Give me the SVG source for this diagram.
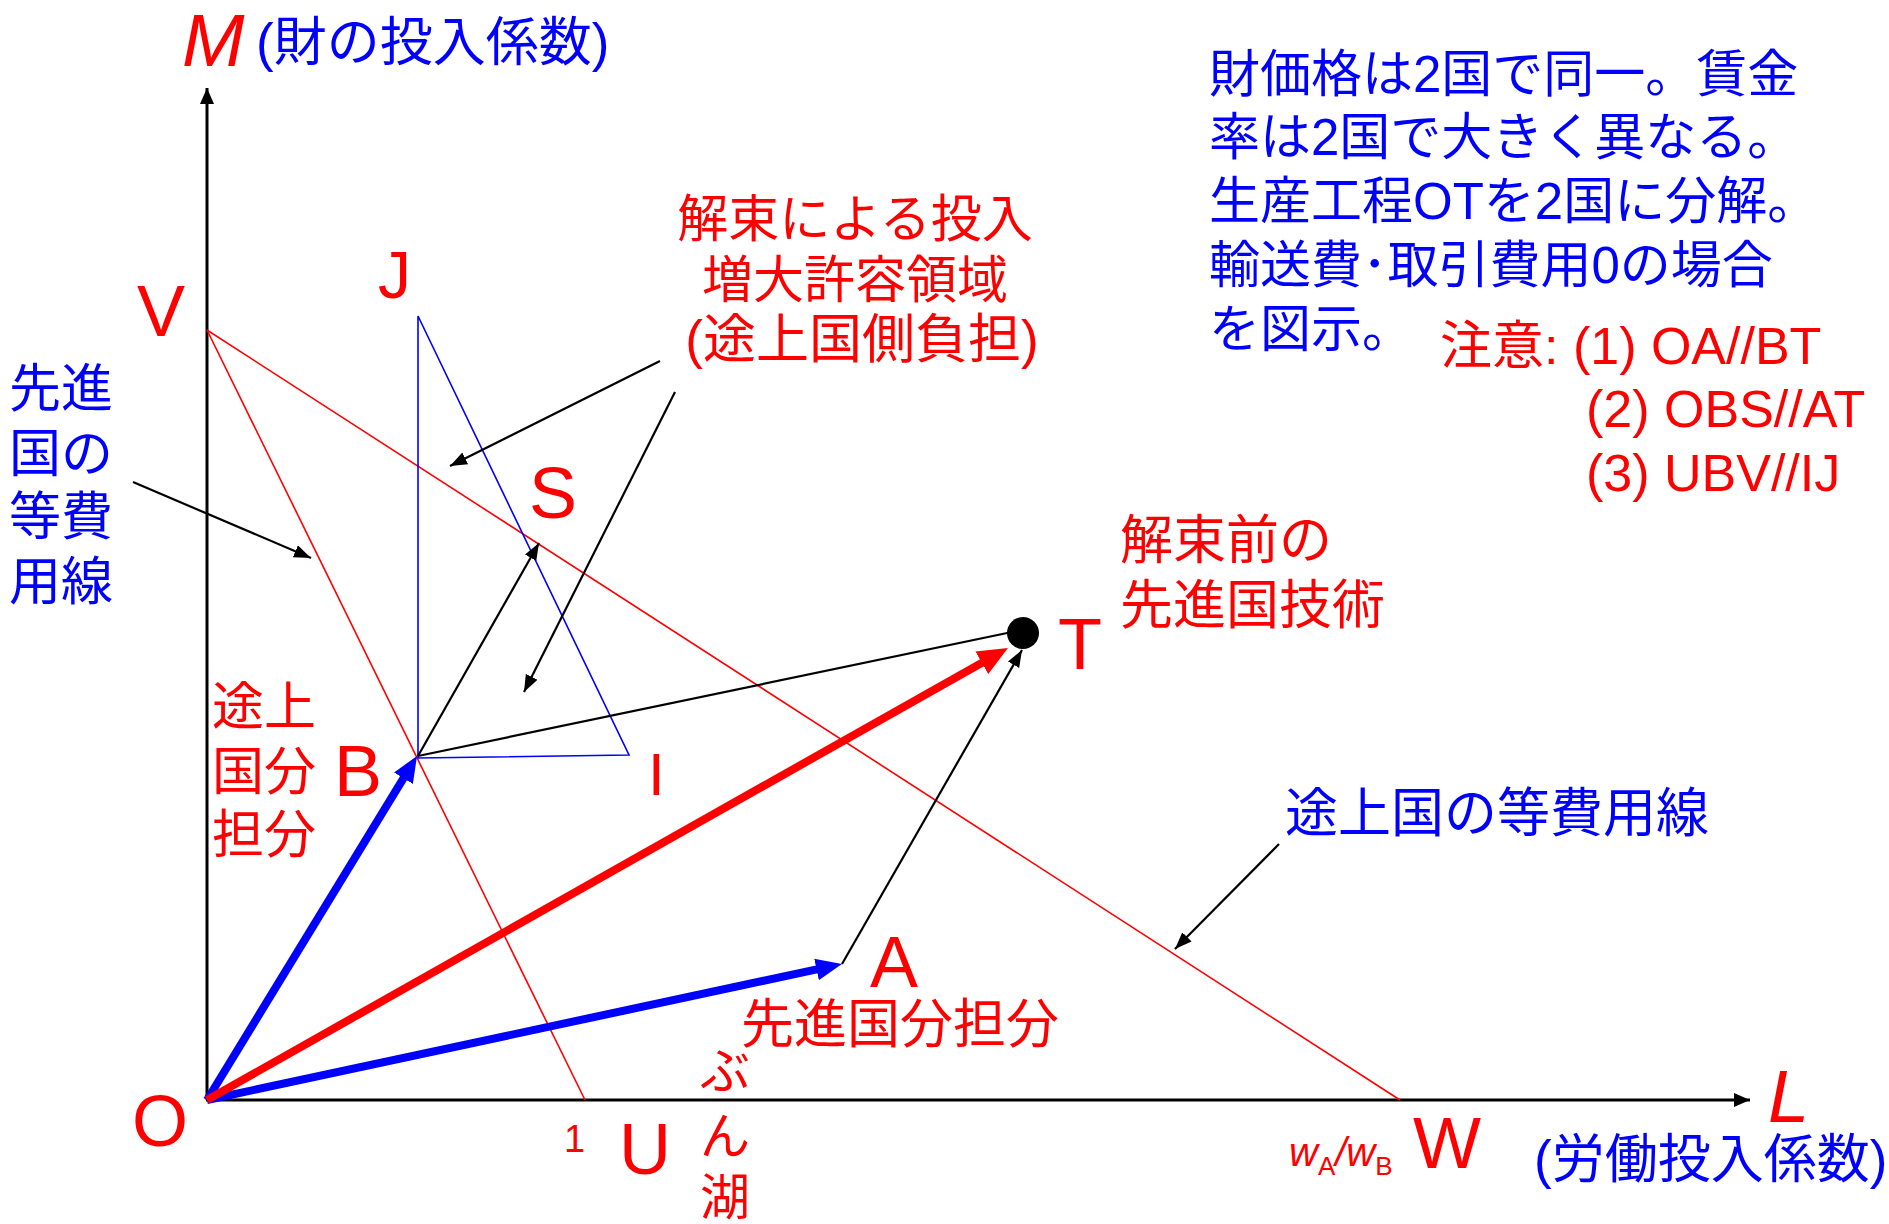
<svg xmlns="http://www.w3.org/2000/svg" width="1889" height="1224" viewBox="0 0 1889 1224">
<style>
.cj{font-family:"Liberation Sans","Noto Sans CJK JP",sans-serif;}
.red{fill:#ff0000;}
.blue{fill:#0000ff;}
.big{font-family:"Liberation Sans",sans-serif;font-size:72px;fill:#ff0000;}
.thinr{stroke:#ff0000;stroke-width:1.6;fill:none;}
.thinb{stroke:#0000ff;stroke-width:1.6;fill:none;}
.blk{stroke:#000;stroke-width:2.2;fill:none;}
</style>
<defs>
<marker id="ah" markerUnits="userSpaceOnUse" markerWidth="18" markerHeight="14" refX="17" refY="6.5" orient="auto"><path d="M0,0 L17,6.5 L0,13 z" fill="#000"/></marker>
<marker id="axh" markerUnits="userSpaceOnUse" markerWidth="18" markerHeight="14" refX="16" refY="7" orient="auto"><path d="M0,0 L16,7 L0,14 z" fill="#000"/></marker>
<marker id="bh" markerUnits="userSpaceOnUse" markerWidth="26" markerHeight="22" refX="11" refY="11" orient="auto"><path d="M0,0 L26,11 L0,22 z" fill="#0000ff"/></marker>
<marker id="rh" markerUnits="userSpaceOnUse" markerWidth="30" markerHeight="26" refX="15" refY="13" orient="auto"><path d="M0,0 L30,13 L0,26 z" fill="#ff0000"/></marker>
</defs>

<g id="axes">
<line x1="207" y1="1100" x2="207" y2="88" stroke="#000" stroke-width="3" marker-end="url(#axh)"/>
<line x1="206" y1="1100" x2="1750" y2="1100" stroke="#000" stroke-width="3" marker-end="url(#axh)"/>
</g>

<g id="isocost-lines">
<line class="thinr" x1="207" y1="330" x2="585" y2="1100"/>
<line class="thinr" x1="207" y1="330" x2="1400" y2="1100"/>
</g>

<g id="triangle-JBI">
<polygon class="thinb" points="418,316 418,758 629,755"/>
</g>

<g id="connectors">
<line class="blk" x1="418" y1="756" x2="1012" y2="632"/>
<line class="blk" x1="418" y1="756" x2="539" y2="543" marker-end="url(#ah)"/>
<line class="blk" x1="842" y1="964" x2="1022" y2="650" marker-end="url(#ah)"/>
<line class="blk" x1="133" y1="482" x2="311" y2="558" marker-end="url(#ah)"/>
<line class="blk" x1="660" y1="361" x2="450" y2="466" marker-end="url(#ah)"/>
<line class="blk" x1="675" y1="392" x2="524" y2="692" marker-end="url(#ah)"/>
<line class="blk" x1="1279" y1="844" x2="1175" y2="949" marker-end="url(#ah)"/>
<line x1="207" y1="1100" x2="409.2" y2="768.8" stroke="#0000ff" stroke-width="8" marker-end="url(#bh)"/>
<line x1="207" y1="1100" x2="827.3" y2="967.1" stroke="#0000ff" stroke-width="8" marker-end="url(#bh)"/>
<line x1="207" y1="1100" x2="994.9" y2="655.4" stroke="#ff0000" stroke-width="8" marker-end="url(#rh)"/>
</g>

<g id="node-T">
<circle cx="1023" cy="633" r="16" fill="#000"/>
<text class="big" x="1058" y="669">T</text>
</g>

<g id="point-labels">
<text class="big" x="137" y="336">V</text>
<text class="big" x="378" y="298" style="font-size:66px">J</text>
<text class="big" x="529" y="518">S</text>
<text class="big" x="334" y="796">B</text>
<text class="big" x="648" y="795" style="font-size:60px">I</text>
<text class="big" x="870" y="987">A</text>
<text class="big" x="132" y="1146">O</text>
<text class="big" x="619" y="1174">U</text>
<text class="big" x="1413" y="1168">W</text>
<text x="564" y="1152" style="font-family:'Liberation Sans',sans-serif;font-size:38px;fill:#ff0000">1</text>
<text x="1289" y="1166" style="font-family:'Liberation Sans',sans-serif;font-size:40px;fill:#ff0000"><tspan font-style="italic">w</tspan><tspan font-size="26" dy="9">A</tspan><tspan font-style="italic" dy="-9">/w</tspan><tspan font-size="26" dy="9">B</tspan></text>
</g>

<g id="axis-labels">
<text x="182" y="66" style="font-family:'Liberation Sans',sans-serif;font-size:75px;font-style:italic;fill:#ff0000">M</text>
<text class="cj blue" x="256" y="61" font-size="53">(財の投入係数)</text>
<text x="1768" y="1122" style="font-family:'Liberation Sans',sans-serif;font-size:74px;font-style:italic;fill:#ff0000">L</text>
<text class="cj blue" x="1534" y="1178" font-size="53">(労働投入係数)</text>
</g>

<g id="note-top-right">
<text class="cj blue" font-size="51">
<tspan x="1209" y="92">財価格は2国で同一。賃金</tspan>
<tspan x="1209" y="155">率は2国で大きく異なる。</tspan>
<tspan x="1209" y="219">生産工程OTを2国に分解。</tspan>
<tspan x="1209" y="283">輸送費･取引費用0の場合</tspan>
<tspan x="1209" y="347">を図示。</tspan>
</text>
<text class="cj red" font-size="52">
<tspan x="1440" y="364">注意: (1) OA//BT</tspan>
<tspan x="1586" y="427">(2) OBS//AT</tspan>
<tspan x="1586" y="491">(3) UBV//IJ</tspan>
</text>
</g>

<g id="label-region">
<text class="cj red" font-size="51" text-anchor="middle">
<tspan x="862" y="237">解束による投入</tspan>
<tspan x="862" y="298">増大許容領域</tspan>
<tspan x="862" y="358" font-size="53">(途上国側負担)</tspan>
</text>
</g>

<g id="label-adv-isocost">
<text class="cj blue" font-size="52">
<tspan x="9" y="407">先進</tspan>
<tspan x="9" y="472">国の</tspan>
<tspan x="9" y="535">等費</tspan>
<tspan x="9" y="600">用線</tspan>
</text>
</g>

<g id="label-dev-share">
<text class="cj red" font-size="52">
<tspan x="212" y="725">途上</tspan>
<tspan x="212" y="790">国分</tspan>
<tspan x="212" y="853">担分</tspan>
</text>
</g>

<g id="label-tech">
<text class="cj red" font-size="53">
<tspan x="1120" y="559">解束前の</tspan>
<tspan x="1120" y="624">先進国技術</tspan>
</text>
</g>

<g id="label-dev-isocost">
<text class="cj blue" font-size="53" x="1285" y="832">途上国の等費用線</text>
</g>

<g id="label-adv-share">
<text class="cj red" font-size="53" x="741" y="1043">先進国分担分</text>
</g>

<g id="label-bun">
<text class="cj red" font-size="50">
<tspan x="700" y="1089">ぶ</tspan>
<tspan x="700" y="1154">ん</tspan>
<tspan x="700" y="1215">湖</tspan>
</text>
</g>
</svg>
